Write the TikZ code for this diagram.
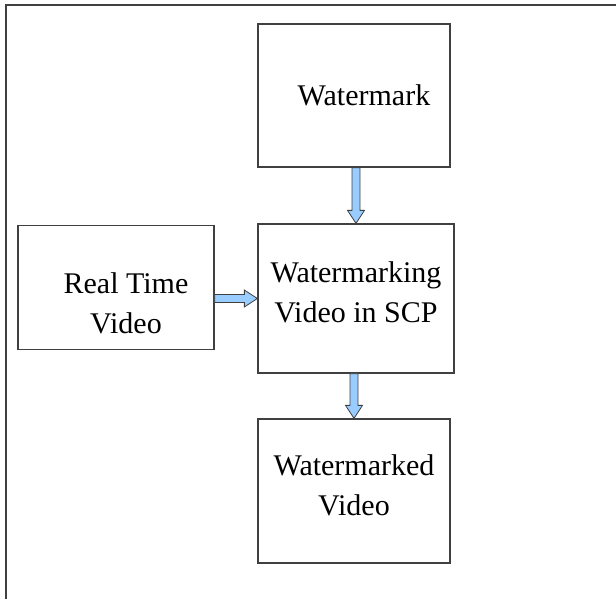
\documentclass[tikz,border=0pt]{standalone}
\usepackage{fontspec}
\setmainfont{Liberation Serif}
\usetikzlibrary{calc}

\definecolor{arrowblue}{RGB}{153,204,255}
\definecolor{edgegray}{RGB}{64,64,64}

\tikzset{
  box/.style={draw=edgegray, line width=1.3pt, rectangle, align=center,
    inner sep=0pt, font=\fontsize{30}{40}\selectfont},
  blockarrow/.style={fill=arrowblue, draw=edgegray, line width=0.8pt, line join=miter}
}

\begin{document}
\begin{tikzpicture}[x=1pt,y=-1pt]
        \useasboundingbox (0,0) rectangle (616,599);

        % Frame
        \draw[edgegray, line width=2pt] (6,599) -- (6,5) -- (616,5);

        % Blocks
        \node[box, minimum width=192pt, minimum height=143pt] (wm) at (354,95.5) {\hspace*{20pt}Watermark};
        \node[box, minimum width=196pt, minimum height=149pt] (wmv) at (356,298.5) {Watermarking\\Video in SCP\\[-28pt]};
        \node[box, minimum width=196pt, minimum height=124pt] (rt) at (116,287.5) {\hspace*{20pt}Real Time\\\hspace*{20pt}Video\\[-71pt]};
        \node[box, minimum width=192pt, minimum height=144pt] (wmd) at (354,491) {Watermarked\\Video\\[-28pt]};

        % Block arrows
        \draw[blockarrow] ($(wmv.north |- wm.south)+(-4,0)$) -- ($(wmv.north)+(-4,-13)$)
          -- ($(wmv.north)+(-8.5,-13)$) -- (wmv.north) -- ($(wmv.north)+(8.5,-13)$)
          -- ($(wmv.north)+(4,-13)$) -- ($(wmv.north |- wm.south)+(4,0)$) -- cycle;
        \draw[blockarrow] ($(rt.east |- wmv.west)+(0,-4)$) -- ($(wmv.west)+(-13,-4)$)
          -- ($(wmv.west)+(-13,-8.5)$) -- (wmv.west) -- ($(wmv.west)+(-13,8.5)$)
          -- ($(wmv.west)+(-13,4)$) -- ($(rt.east |- wmv.west)+(0,4)$) -- cycle;
        \draw[blockarrow] ($(wmd.north |- wmv.south)+(-4,0)$) -- ($(wmd.north)+(-4,-13)$)
          -- ($(wmd.north)+(-8.5,-13)$) -- (wmd.north) -- ($(wmd.north)+(8.5,-13)$)
          -- ($(wmd.north)+(4,-13)$) -- ($(wmd.north |- wmv.south)+(4,0)$) -- cycle;
    \end{tikzpicture}
\end{document}
